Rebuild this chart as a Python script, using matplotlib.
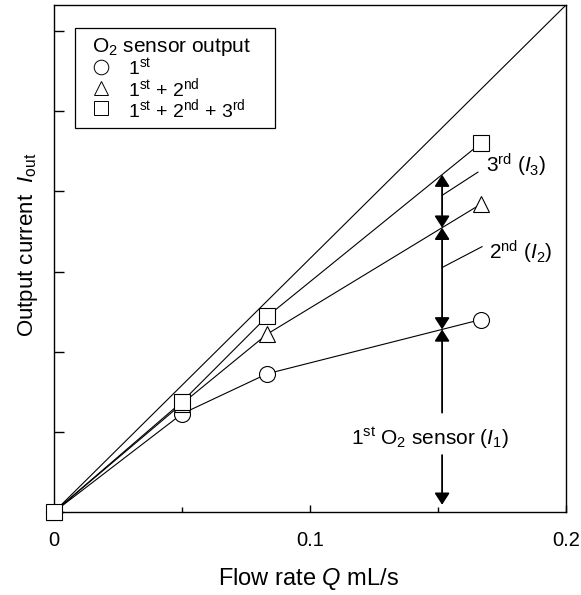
import numpy as np
import matplotlib
matplotlib.use("Agg")
import matplotlib.pyplot as plt
from matplotlib.patches import FancyArrowPatch, Rectangle
from matplotlib.lines import Line2D

plt.rcParams['font.family'] = ['Liberation Sans', 'DejaVu Sans']
plt.rcParams['mathtext.fontset'] = 'custom'
plt.rcParams['mathtext.rm'] = 'Liberation Sans'
plt.rcParams['mathtext.it'] = 'Liberation Sans:italic'

# ---- data ----
flow = [0.0, 0.05, 0.0833, 0.1667]
s1 = [0.0, 1.225, 1.725, 2.40]          # 1st
s12 = [0.0, 1.35, 2.22, 3.84]           # 1st + 2nd
s123 = [0.0, 1.375, 2.44, 4.60]         # 1st + 2nd + 3rd
ideal_x = [0.0, 0.2]
ideal_y = [0.0, 6.325]
arrow_q = 0.1516
xticks = [0.0, 0.1, 0.2]
xtick_labels = ['0', '0.1', '0.2']
xminor = [0.05, 0.15]
yticks = [0, 1, 2, 3, 4, 5, 6]

fig = plt.figure(figsize=(5.81, 5.95), dpi=100)
ax = fig.add_axes([54/581, 1-512/595, (566-54)/581, (512-5)/595])
ax.set_xlim(0, 0.2)
ax.set_ylim(0, 6.325)

lw = 0.8
ax.plot(ideal_x, ideal_y, color='black', lw=lw, zorder=2)
ms = 11.5
ax.plot(flow, s1, color='black', lw=lw, marker='o', ms=ms, mfc='white', mec='black', mew=0.8, zorder=3, clip_on=False)
ax.plot(flow, s12, color='black', lw=lw, marker='^', ms=ms, mfc='white', mec='black', mew=0.8, zorder=4, clip_on=False)
ax.plot(flow, s123, color='black', lw=lw, marker='s', ms=ms, mfc='white', mec='black', mew=0.8, zorder=5, clip_on=False)

# arrows at Q = arrow_q
y1 = np.interp(arrow_q, flow, s1)
y2 = np.interp(arrow_q, flow, s12)
y3 = np.interp(arrow_q, flow, s123)

def arr(ya, yb, style):
    p = FancyArrowPatch((arrow_q, ya), (arrow_q, yb), arrowstyle=style,
                        mutation_scale=1, shrinkA=0, shrinkB=0, color='black',
                        lw=1.3, zorder=6)
    ax.add_patch(p)

hs = '-|>,head_length=7,head_width=4.5'
ds = '<|-|>,head_length=7,head_width=4.5'
arr(y2, y3, ds)
arr(y1, y2, ds)
arr(1.24, y1, hs)
arr(0.71, 0.09, hs)

fs = 15
ax.text(0.1469, 0.925, r'1$^{\rm st}$ O$_2$ sensor ($I_1$)', fontsize=fs, ha='center', va='center')
ax.plot([arrow_q, 0.1656], [3.95, 4.24], color='black', lw=lw)
ax.text(0.1688, 4.33, r'3$^{\rm rd}$ ($I_3$)', fontsize=fs, ha='left', va='center')
ax.plot([arrow_q, 0.1672], [3.05, 3.31], color='black', lw=lw)
ax.text(0.170, 3.24, r'2$^{\rm nd}$ ($I_2$)', fontsize=fs, ha='left', va='center')

# legend (manual)
def px2ax(x, y):
    return (x - 54) / (566 - 54), (512 - y) / (512 - 5)

x0, y0 = px2ax(75, 128)
x1, y1b = px2ax(275, 28)
ax.add_patch(Rectangle((x0, y0), x1 - x0, y1b - y0, transform=ax.transAxes,
                       fill=False, ec='black', lw=0.9, zorder=7))
tx, ty = px2ax(92, 47)
ax.text(tx, ty, r'O$_2$ sensor output', fontsize=fs, ha='left', va='center', transform=ax.transAxes)
leg_items = [('o', r'1$^{\rm st}$', 67),
             ('^', r'1$^{\rm st}$ + 2$^{\rm nd}$', 87.5),
             ('s', r'1$^{\rm st}$ + 2$^{\rm nd}$ + 3$^{\rm rd}$', 108)]
for m, lab, ypx in leg_items:
    mx, my = px2ax(101, ypx)
    ax.add_line(Line2D([mx], [my], marker=m, ms=10.5, mfc='white', mec='black', mew=0.7,
                       transform=ax.transAxes, ls='none'))
    lx, ly = px2ax(128, ypx + 1)
    ax.text(lx, ly, lab, fontsize=14, ha='left', va='center', transform=ax.transAxes)

# axes styling
for sp in ax.spines.values():
    sp.set_linewidth(1.0)
ax.set_xticks(xticks)
ax.set_xticklabels(xtick_labels, fontsize=14.5)
ax.set_xticks(xminor, minor=True)
ax.set_yticks(yticks)
ax.set_yticklabels([])
ax.tick_params(axis='x', which='major', direction='in', length=5, width=1.0, pad=14)
ax.tick_params(axis='x', which='minor', direction='in', length=3.5, width=1.0)
ax.tick_params(axis='y', which='major', direction='in', length=7.5, width=1.0)
ax.set_xlabel(r'Flow rate $Q$ mL/s', fontsize=17)
ax.set_ylabel(r'Output current  $I_{\rm out}$', fontsize=16)
ax.xaxis.set_label_coords(*px2ax(308, 566))
ax.yaxis.set_label_coords(*px2ax(40, 245))

fig.savefig('out.png', dpi=100)
